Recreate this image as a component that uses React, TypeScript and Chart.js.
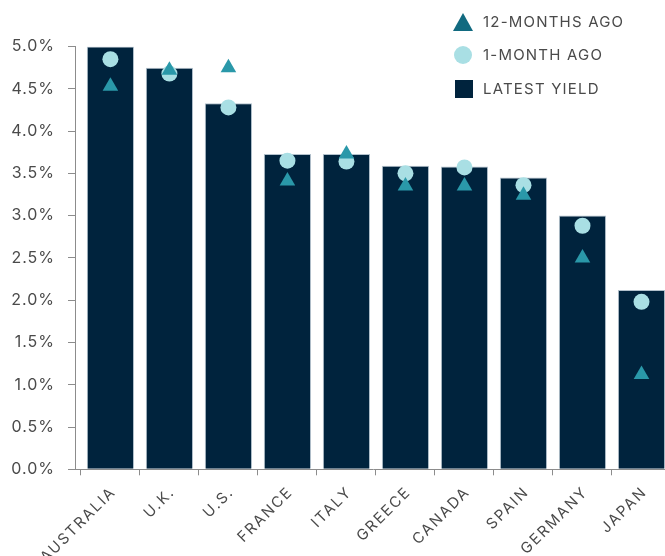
import React, { useEffect, useRef } from 'react';
import { Chart, registerables } from 'chart.js';

Chart.register(...registerables);

const countries = ['AUSTRALIA', 'U.K.', 'U.S.', 'FRANCE', 'ITALY', 'GREECE', 'CANADA', 'SPAIN', 'GERMANY', 'JAPAN'];
const latestYield = [5.0, 4.75, 4.33, 3.73, 3.73, 3.59, 3.58, 3.45, 3.0, 2.12];
const oneMonthAgo = [4.85, 4.68, 4.28, 3.65, 3.64, 3.5, 3.57, 3.36, 2.88, 1.98];
const twelveMonthsAgo = [4.53, 4.72, 4.75, 3.41, 3.73, 3.35, 3.35, 3.24, 2.5, 1.12];
const legendLabels = ['12-MONTHS AGO', '1-MONTH AGO', 'LATEST YIELD'];

const NAVY = '#00233d';
const CYAN = '#a9dfe4';
const TEAL = '#2a98a9';
const LEGEND_TEAL = '#116a80';
const TEXT = '#4a4a4a';
const AXIS = '#8c8c8c';
const FONT = 'Inter, "Noto Sans", sans-serif';

const spacingPlugin = {
  id: 'letterSpacing',
  beforeLayout(chart: any) {
    (chart.ctx as any).letterSpacing = '1px';
  },
  beforeDraw(chart: any) {
    (chart.ctx as any).letterSpacing = '1px';
    const xs = chart.scales.x;
    if (xs && !xs._spacedLabels) {
      const orig = xs.drawLabels.bind(xs);
      xs.drawLabels = (area: any) => {
        const ctx = chart.ctx as any;
        ctx.save();
        ctx.letterSpacing = '1.8px';
        ctx.translate(3, 0);
        orig(area);
        ctx.restore();
      };
      xs._spacedLabels = true;
    }
  },
};

export default function App() {
  const canvasRef = useRef<HTMLCanvasElement | null>(null);

  useEffect(() => {
    const canvas = canvasRef.current;
    if (!canvas) return;
    const toPoints = (arr: number[]) => arr.map((y, i) => ({ x: i, y }));
    const chart = new Chart(canvas, {
      type: 'bar',
      data: {
        datasets: [
          {
            type: 'line',
            label: legendLabels[0],
            data: toPoints(twelveMonthsAgo),
            showLine: false,
            pointStyle: 'triangle',
            pointRadius: 9,
            pointBackgroundColor: TEAL,
            pointBorderColor: TEAL,
            pointBorderWidth: 0,
          } as any,
          {
            type: 'line',
            label: legendLabels[1],
            data: toPoints(oneMonthAgo),
            showLine: false,
            pointStyle: 'circle',
            pointRadius: 8,
            pointBackgroundColor: CYAN,
            pointBorderColor: CYAN,
            pointBorderWidth: 0,
          } as any,
          {
            type: 'bar',
            label: legendLabels[2],
            data: toPoints(latestYield),
            backgroundColor: NAVY,
            borderColor: 'rgba(170,186,198,0.9)',
            borderWidth: 1,
            borderSkipped: 'start',
            barPercentage: 0.8,
            categoryPercentage: 1,
          } as any,
        ],
      },
      options: {
        responsive: false,
        animation: false,
        layout: { padding: { top: 46.5, left: 0, right: 7, bottom: 0 } },
        plugins: {
          legend: { display: false },
          tooltip: { enabled: false },
        },
        scales: {
          x: {
            type: 'linear',
            min: -0.6,
            max: 9.5,
            offset: false,
            afterBuildTicks: (scale: any) => {
              scale.ticks = countries.map((_, i) => ({ value: i }));
            },
            afterFit: (scale: any) => {
              scale.height = 86.7;
            },
            grid: {
              display: true,
              drawOnChartArea: false,
              drawTicks: true,
              tickLength: 6,
              color: AXIS,
            },
            border: { display: true, color: AXIS, width: 1 },
            ticks: {
              autoSkip: false,
              minRotation: 45,
              maxRotation: 45,
              padding: 8,
              color: TEXT,
              font: { family: FONT, size: 15 },
              callback: (v: any) => countries[Math.round(Number(v))] ?? '',
            },
          },
          y: {
            min: 0,
            max: 5,
            afterFit: (scale: any) => {
              scale.width = 75;
            },
            grid: {
              display: true,
              drawOnChartArea: false,
              drawTicks: true,
              tickLength: 7,
              color: AXIS,
            },
            border: { display: true, color: AXIS, width: 1 },
            ticks: {
              stepSize: 0.5,
              padding: 13,
              color: TEXT,
              font: { family: FONT, size: 16 },
              callback: (v: any) => Number(v).toFixed(1) + '%',
            },
          },
        },
      },
      plugins: [spacingPlugin],
    });
    return () => chart.destroy();
  }, []);

  const legendText: React.CSSProperties = {
    position: 'absolute',
    left: 483,
    fontFamily: FONT,
    fontSize: 15,
    letterSpacing: '1.2px',
    color: TEXT,
    lineHeight: '18px',
    whiteSpace: 'nowrap',
  };

  return (
    <div style={{ position: 'fixed', left: 0, top: 0, width: 665, height: 556, overflow: 'hidden', background: '#fff' }}>
      <div style={{ position: 'relative', width: 680, height: 556 }}>
        <canvas ref={canvasRef} width={680} height={556} style={{ display: 'block' }} />
        <div
          style={{
            position: 'absolute',
            left: 453,
            top: 13,
            width: 0,
            height: 0,
            borderLeft: '10px solid transparent',
            borderRight: '10px solid transparent',
            borderBottom: `18px solid ${LEGEND_TEAL}`,
          }}
        />
        <div style={{ ...legendText, top: 13 }}>{legendLabels[0]}</div>
        <div
          style={{
            position: 'absolute',
            left: 454,
            top: 46,
            width: 18,
            height: 18,
            borderRadius: '50%',
            background: CYAN,
          }}
        />
        <div style={{ ...legendText, top: 46 }}>{legendLabels[1]}</div>
        <div style={{ position: 'absolute', left: 455, top: 80, width: 18, height: 18, background: NAVY }} />
        <div style={{ ...legendText, top: 80 }}>{legendLabels[2]}</div>
      </div>
    </div>
  );
}
